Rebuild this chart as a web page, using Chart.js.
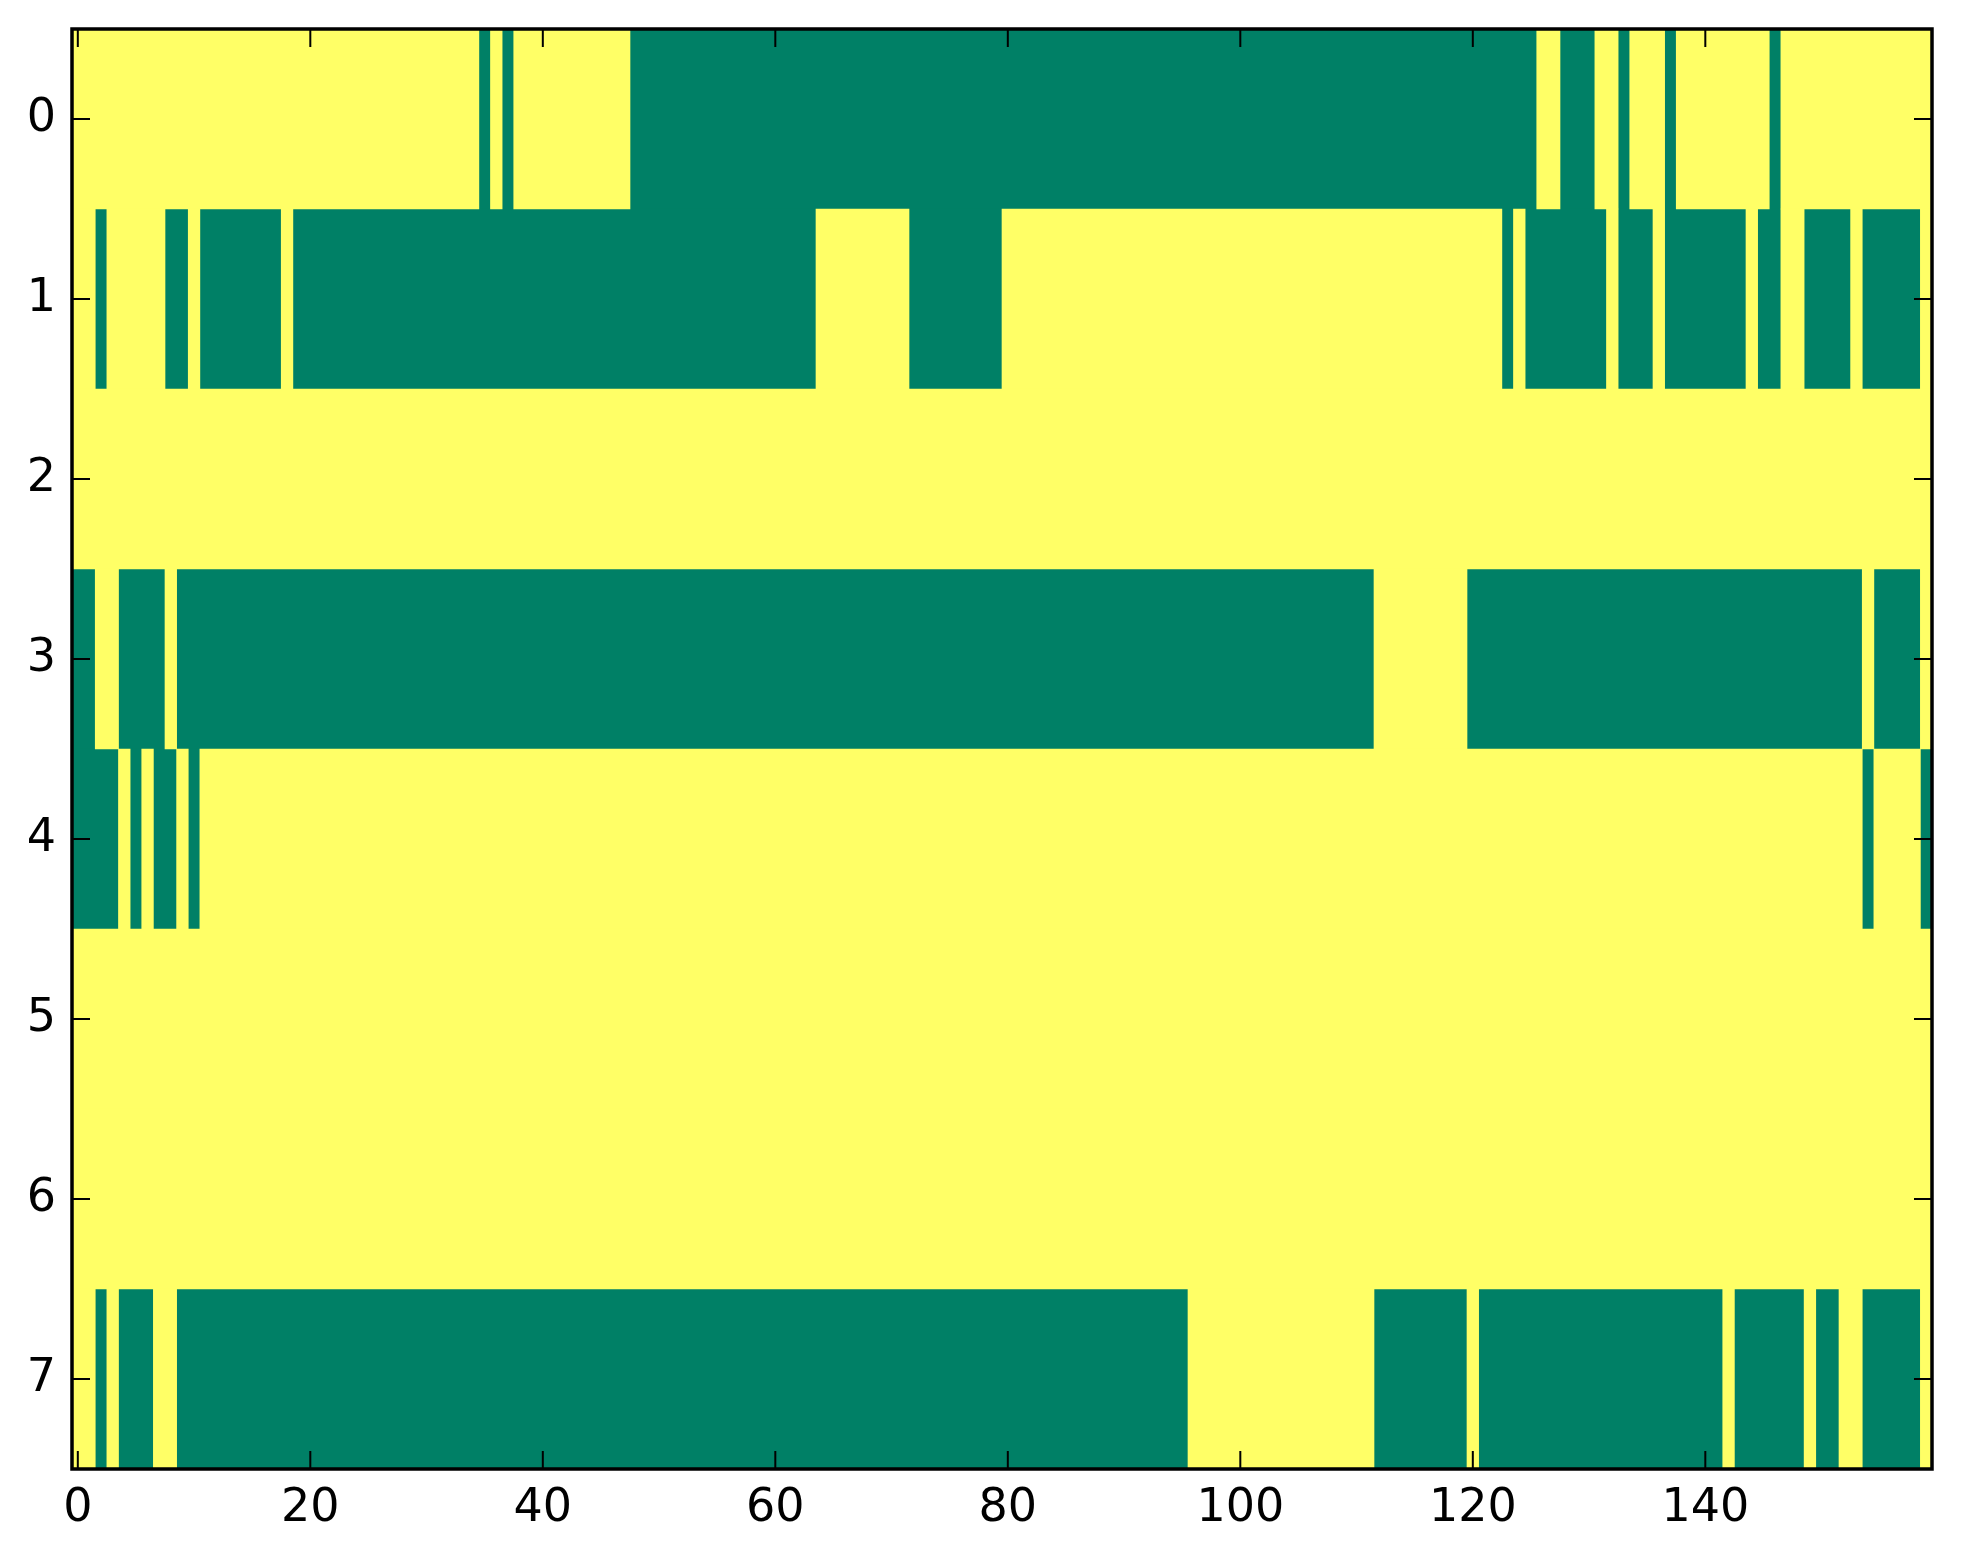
<!DOCTYPE html>
<html>
<head>
<meta charset="utf-8">
<script src="https://cdn.jsdelivr.net/npm/chart.js@4.4.1/dist/chart.umd.min.js"></script>
<style>
    html, body { margin: 0; padding: 0; background: #ffffff; }
    canvas { display: block; }
</style>
</head>
<body>
<canvas id="gridChart" width="1963" height="1564"></canvas>
<script>
const rowLabels = ["0", "1", "2", "3", "4", "5", "6", "7"];
const xTicks = [0, 20, 40, 60, 80, 100, 120, 140];

// one string per row, 160 cells; 1 = high (yellow), 0 = low (green), grouped by 20 columns
const row0 = "11111111111111111111 11111111111111101011 11111111000000000000 00000000000000000000 00000000000000000000 00000000000000000000 00000011000110111011 11111101111111111111";
const row1 = "11011111001000000010 00000000000000000000 00000000000000000000 00001111111100000000 11111111111111111111 11111111111111111111 11101000000010001000 00001001100001000001";
const row2 = "11111111111111111111 11111111111111111111 11111111111111111111 11111111111111111111 11111111111111111111 11111111111111111111 11111111111111111111 11111111111111111111";
const row3 = "00110000100000000000 00000000000000000000 00000000000000000000 00000000000000000000 00000000000000000000 00000000000011111111 00000000000000000000 00000000000000100001";
const row4 = "00001010010111111111 11111111111111111111 11111111111111111111 11111111111111111111 11111111111111111111 11111111111111111111 11111111111111111111 11111111111111011110";
const row5 = "11111111111111111111 11111111111111111111 11111111111111111111 11111111111111111111 11111111111111111111 11111111111111111111 11111111111111111111 11111111111111111111";
const row6 = "11111111111111111111 11111111111111111111 11111111111111111111 11111111111111111111 11111111111111111111 11111111111111111111 11111111111111111111 11111111111111111111";
const row7 = "11010001100000000000 00000000000000000000 00000000000000000000 00000000000000000000 00000000000000001111 11111111111100000000 10000000000000000000 00100000010011000001";

const rows = [row0, row1, row2, row3, row4, row5, row6, row7];

const colorLow = "#008066";
const colorHigh = "#ffff66";

// merge neighbouring cells of the same value into one floating bar
function runsOf(value) {
    const out = [];
    rows.forEach((row, r) => {
        const cells = row.replace(/ /g, "");
        let start = null;
        for (let c = 0; c <= cells.length; c++) {
            const on = c < cells.length && cells[c] === value;
            if (on && start === null) start = c;
            if (!on && start !== null) {
                out.push({ y: rowLabels[r], x: [start - 0.5, c - 0.5] });
                start = null;
            }
        }
    });
    return out;
}

// yellow under the cells, black frame and inward ticks on all four sides
const framePlugin = {
    id: "frame",
    beforeDatasetsDraw(chart) {
        const { ctx, chartArea: a } = chart;
        ctx.save();
        ctx.fillStyle = colorHigh;
        ctx.fillRect(a.left, a.top, a.right - a.left, a.bottom - a.top);
        ctx.restore();
    },
    afterDraw(chart) {
        const { ctx, chartArea: a, scales } = chart;
        const len = 18;
        ctx.save();
        ctx.strokeStyle = "#000000";
        ctx.lineWidth = 2;
        ctx.beginPath();
        scales.x.ticks.forEach((t, i) => {
            const px = scales.x.getPixelForTick(i);
            ctx.moveTo(px, a.bottom);
            ctx.lineTo(px, a.bottom - len);
            ctx.moveTo(px, a.top);
            ctx.lineTo(px, a.top + len);
        });
        scales.y.ticks.forEach((t, i) => {
            const py = scales.y.getPixelForTick(i);
            ctx.moveTo(a.left, py);
            ctx.lineTo(a.left + len, py);
            ctx.moveTo(a.right, py);
            ctx.lineTo(a.right - len, py);
        });
        ctx.stroke();
        ctx.lineWidth = 3.5;
        ctx.strokeRect(a.left, a.top, a.right - a.left, a.bottom - a.top);
        ctx.restore();
    }
};

Chart.defaults.font.family = "'DejaVu Sans', sans-serif";
Chart.defaults.font.size = 46;
Chart.defaults.color = "#000000";

const gridCtx = document.getElementById("gridChart");

new Chart(gridCtx, {
    type: "bar",
    data: {
        labels: rowLabels,
        datasets: [
            {
                data: runsOf("1"),
                backgroundColor: colorHigh,
                borderWidth: 0,
                barPercentage: 1,
                categoryPercentage: 1,
                grouped: false
            },
            {
                data: runsOf("0"),
                backgroundColor: colorLow,
                borderWidth: 0,
                barPercentage: 1,
                categoryPercentage: 1,
                grouped: false
            }
        ]
    },
    options: {
        indexAxis: "y",
        responsive: false,
        animation: false,
        layout: {
            padding: { left: 0, top: 29, right: 31, bottom: 0 }
        },
        plugins: {
            legend: { display: false },
            tooltip: { enabled: false }
        },
        scales: {
            x: {
                type: "linear",
                min: -0.5,
                max: 159.5,
                afterBuildTicks: scale => {
                    scale.ticks = xTicks.map(v => ({ value: v }));
                },
                afterFit: scale => {
                    scale.height = 95;
                    scale.paddingLeft = 0;
                    scale.paddingRight = 0;
                },
                grid: { display: false, drawTicks: false },
                border: { display: false },
                ticks: {
                    padding: 12,
                    maxRotation: 0,
                    autoSkip: false,
                    callback: v => String(v)
                }
            },
            y: {
                type: "category",
                offset: true,
                afterFit: scale => {
                    scale.width = 72;
                    scale.paddingTop = 0;
                    scale.paddingBottom = 0;
                },
                grid: { display: false, drawTicks: false },
                border: { display: false },
                ticks: {
                    padding: 16,
                    autoSkip: false
                }
            }
        }
    },
    plugins: [framePlugin]
});
</script>
</body>
</html>
